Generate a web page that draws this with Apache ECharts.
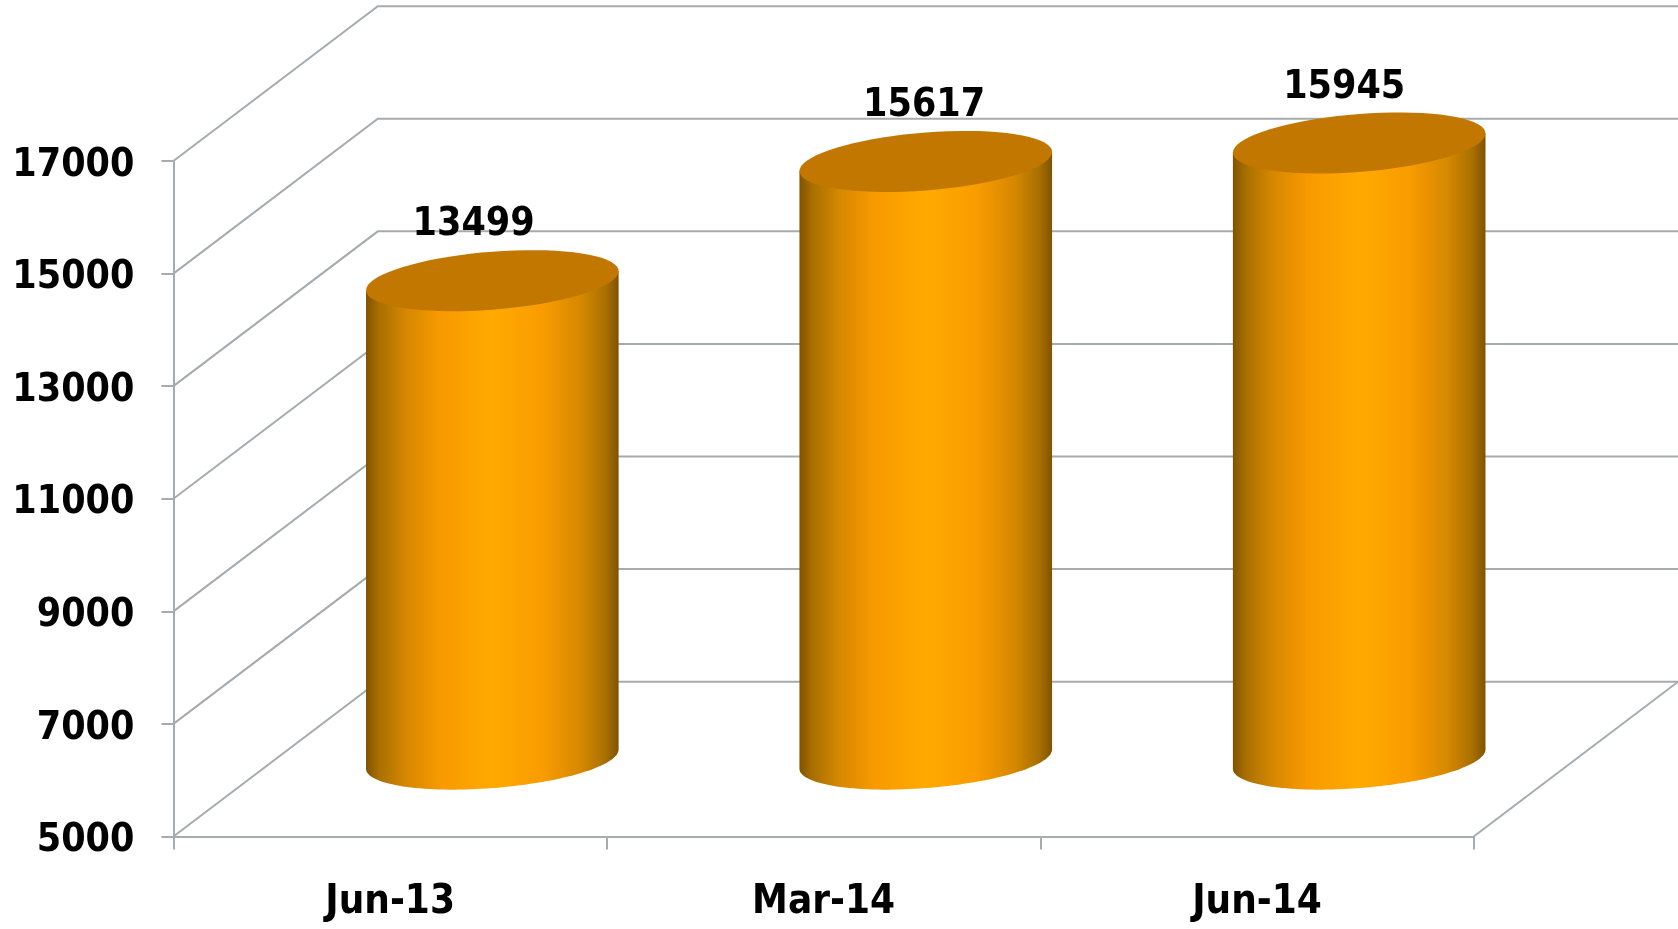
<!DOCTYPE html>
<html>
<head>
<meta charset="utf-8">
<style>html,body{margin:0;padding:0;background:#fff}#c{width:1678px;height:929px}</style>
<script src="https://cdn.jsdelivr.net/npm/echarts@6/dist/echarts.min.js"></script>
</head>
<body>
<div id="c"></div>
<script>
const categories = ['Jun-13', 'Mar-14', 'Jun-14'];
const seriesValues = [13499, 15617, 15945];
const yTicks = [5000, 7000, 9000, 11000, 13000, 15000, 17000];

const FONT = '"DejaVu Sans Condensed", "DejaVu Sans", sans-serif';
const DEPTH_X = 204.4, DEPTH_Y = -154.8;
const RX = 126.3, TILT = 9.6, RY = 29;
const LABEL_SHIFT_X = [-18.7, -1.6, -15];
const LABEL_ABOVE = 55.5;
const LINE = '#A6ABB0';
const LINE_W = 2;

const chart = echarts.init(document.getElementById('c'), null, {renderer: 'canvas'});

function ellipsePts(cx, cy, from, to) {
  const pts = [], n = 72;
  for (let i = 0; i <= n; i++) {
    const t = from + (to - from) * i / n;
    pts.push([cx + RX * Math.cos(t), cy - TILT * Math.cos(t) + RY * Math.sin(t)]);
  }
  return pts;
}

function renderWall(params, api) {
  const tick = api.value(1);
  const cs = params.coordSys;
  const y = api.coord([0, tick])[1];
  const x0 = cs.x, x1 = cs.x + cs.width;
  const style = {stroke: LINE, lineWidth: LINE_W, fill: null};
  const children = [{
    type: 'polyline',
    shape: {points: [[x0, y], [x0 + DEPTH_X, y + DEPTH_Y], [x1 + DEPTH_X, y + DEPTH_Y]]},
    style: style
  }];
  if (tick === yTicks[0]) {
    children.push({
      type: 'line',
      shape: {x1: x1, y1: y, x2: x1 + DEPTH_X, y2: y + DEPTH_Y},
      style: style
    });
  }
  return {type: 'group', children: children};
}

function renderCylinder(params, api) {
  const idx = api.value(0), val = api.value(1);
  const top = api.coord([idx, val]);
  const base = api.coord([idx, yTicks[0]]);
  const tx = top[0] + DEPTH_X / 2, ty = top[1] + DEPTH_Y / 2;
  const by = base[1] + DEPTH_Y / 2;
  const body = [[tx + RX, ty - TILT]]
    .concat(ellipsePts(tx, by, 0, Math.PI))
    .concat([[tx - RX, ty + TILT]]);
  return {
    type: 'group',
    children: [{
      type: 'polygon',
      shape: {points: body},
      style: {
        fill: new echarts.graphic.LinearGradient(0, 0, 1, 0, [
          {offset: 0, color: '#805300'},
          {offset: 0.05, color: '#A86F00'},
          {offset: 0.16, color: '#D68800'},
          {offset: 0.29, color: '#F79900'},
          {offset: 0.5, color: '#FFAA00'},
          {offset: 0.7, color: '#F99C00'},
          {offset: 0.85, color: '#D68800'},
          {offset: 0.95, color: '#A86F00'},
          {offset: 1, color: '#805300'}
        ])
      }
    }, {
      type: 'polygon',
      shape: {points: ellipsePts(tx, ty, 0, Math.PI * 2)},
      style: {fill: '#C27800'}
    }, {
      type: 'text',
      x: tx + LABEL_SHIFT_X[idx],
      y: ty - LABEL_ABOVE,
      style: {
        text: String(val),
        fill: '#000',
        font: 'bold 39px ' + FONT,
        align: 'center',
        verticalAlign: 'middle'
      }
    }]
  };
}

chart.setOption({
  animation: false,
  backgroundColor: '#fff',
  grid: {left: 173.4, right: 204.3, top: 161, bottom: 92.5, containLabel: false},
  xAxis: {
    type: 'category',
    data: categories,
    boundaryGap: true,
    axisLine: {show: true, lineStyle: {color: LINE, width: LINE_W}},
    axisTick: {show: true, alignWithLabel: false, length: 13, lineStyle: {color: LINE, width: LINE_W}},
    axisLabel: {color: '#000', fontFamily: FONT, fontWeight: 'bold', fontSize: 40, margin: 46}
  },
  yAxis: {
    type: 'value',
    min: yTicks[0],
    max: yTicks[yTicks.length - 1],
    axisLine: {show: true, lineStyle: {color: LINE, width: LINE_W}},
    axisTick: {show: true, length: 12, customValues: yTicks, lineStyle: {color: LINE, width: LINE_W}},
    axisLabel: {
      customValues: yTicks, margin: 39,
      formatter: v => '{t|' + v + '}',
      rich: {t: {color: '#000', fontFamily: FONT, fontWeight: 'bold', fontSize: 39, padding: [9, 0, 0, 0]}}
    },
    splitLine: {show: false}
  },
  series: [{
    type: 'custom',
    name: 'walls',
    silent: true,
    z: 1,
    renderItem: renderWall,
    encode: {x: 0, y: 1},
    data: yTicks.map(t => [0, t])
  }, {
    type: 'custom',
    name: 'values',
    z: 2,
    renderItem: renderCylinder,
    encode: {x: 0, y: 1},
    data: seriesValues.map((v, i) => [i, v])
  }]
});
</script>
</body>
</html>
